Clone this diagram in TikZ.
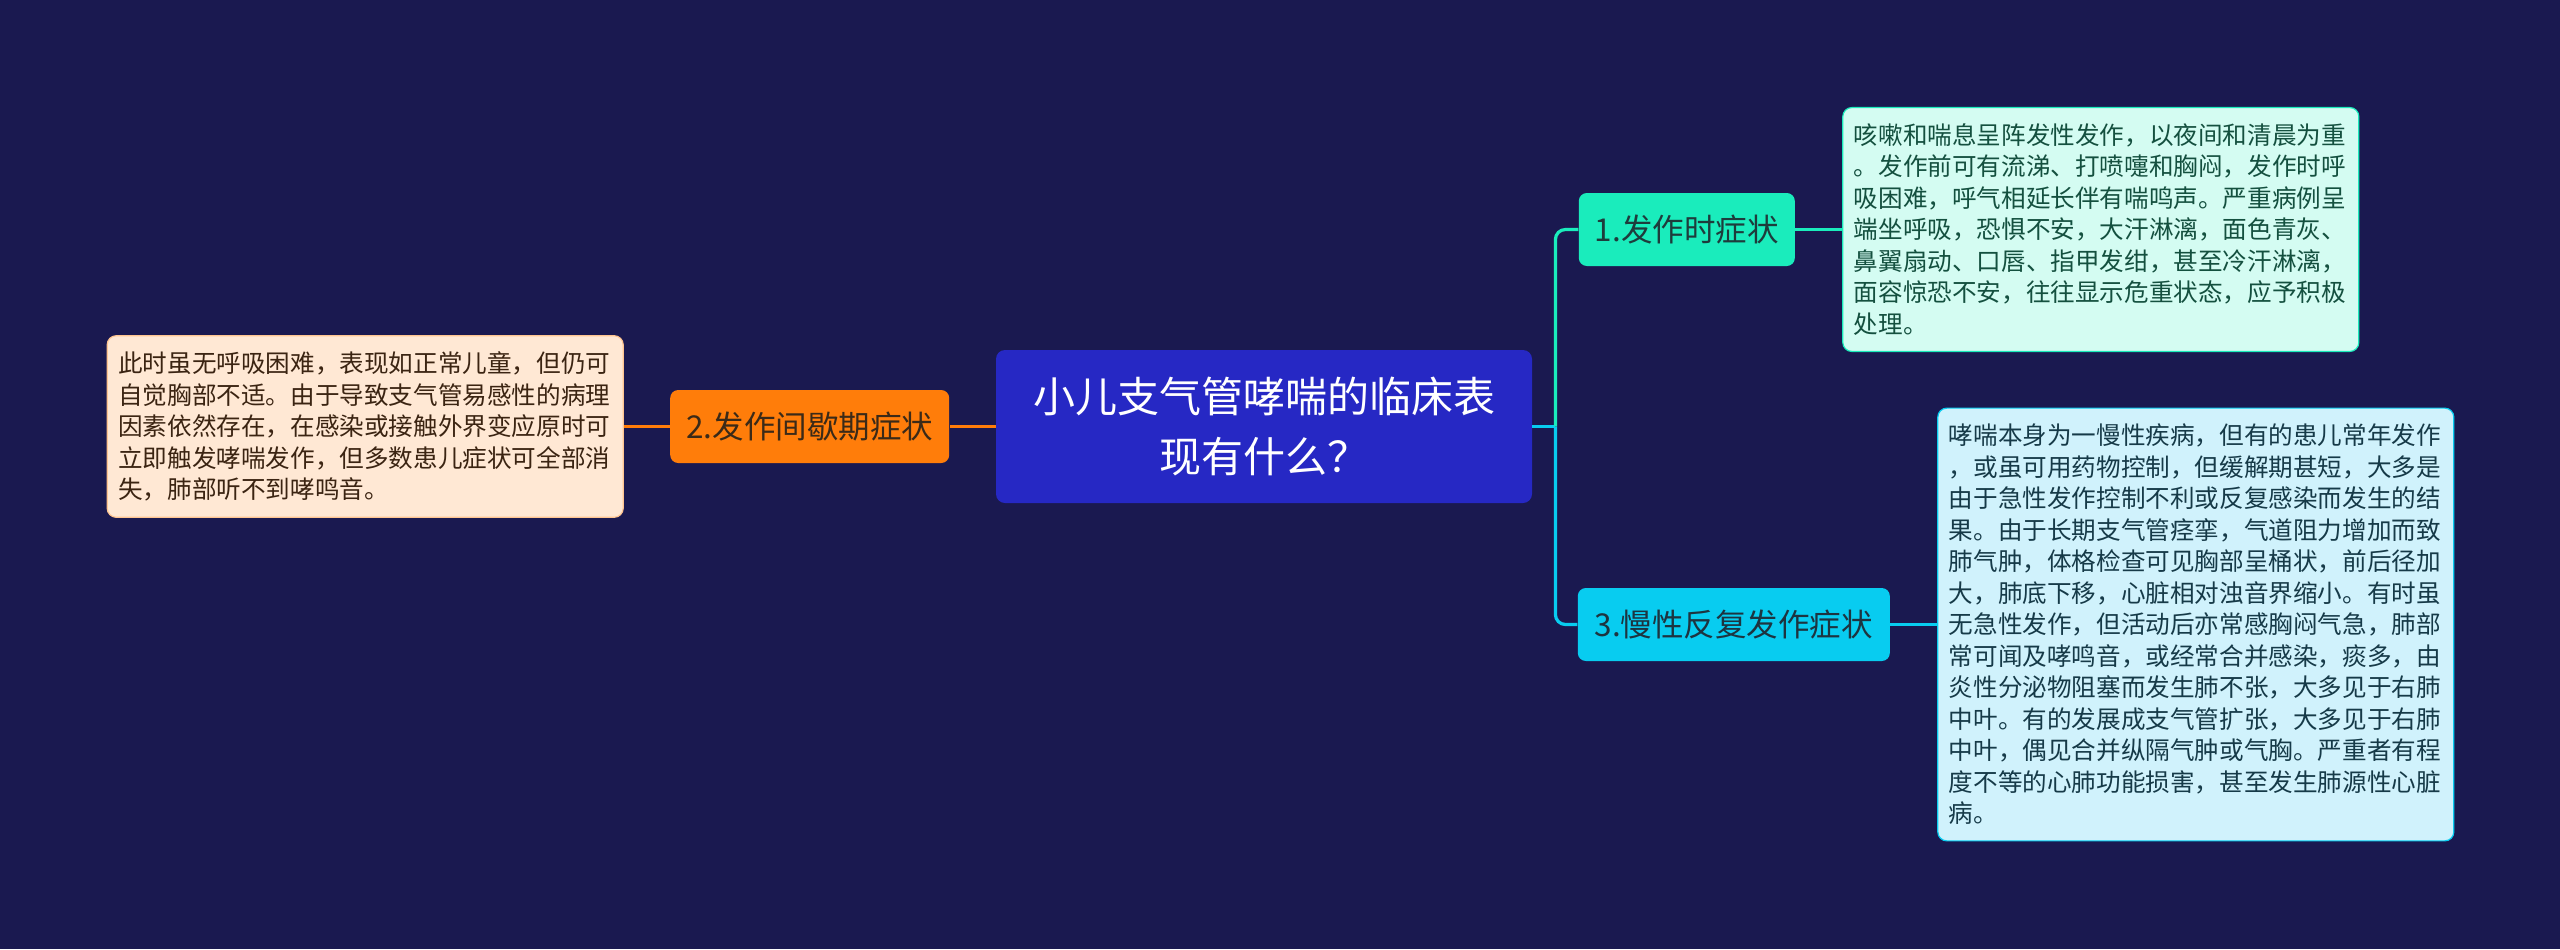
\documentclass[tikz,border=0pt]{standalone}
\usepackage{fontspec}
\setmainfont{Noto Sans CJK SC}
\usetikzlibrary{positioning}
\definecolor{bgnavy}{RGB}{26,25,80}
\definecolor{topicblue}{RGB}{38,40,196}
\definecolor{brorange}{RGB}{255,125,10}
\definecolor{brteal}{RGB}{26,236,188}
\definecolor{brcyan}{RGB}{8,204,240}
\definecolor{mintfill}{RGB}{212,252,242}
\definecolor{skyfill}{RGB}{208,242,252}
\definecolor{peachfill}{RGB}{255,232,212}

\begin{document}
\begin{tikzpicture}[x=0.5pt, y=-0.5pt,
        topic/.style={rectangle, fill=topicblue, rounded corners=4.5pt,
                      minimum width=268pt, minimum height=76.5pt, align=center,
                      text=white, font=\fontsize{21}{30.4}\selectfont},
        branch/.style={rectangle, rounded corners=4pt, minimum height=36.5pt,
                       inner xsep=6pt, font=\fontsize{15.75}{18}\selectfont},
        note/.style={rectangle, draw, line width=0.6pt, rounded corners=4.5pt,
                     text width=247pt, align=left, inner xsep=5.5pt, inner ysep=8pt,
                     font=\fontsize{12.3}{15.75}\selectfont},
        link/.style={line width=1.6pt}
    ]
        \useasboundingbox[fill=bgnavy] (0,0) rectangle (2560,949);

        % centre
        \node[topic] (root) at (1264,426.5) {小儿支气管哮喘的临床表\\现有什么？};

        % left side
        \node[branch, fill=brorange, text={rgb,255:red,59;green,42;blue,24},
              minimum width=139.5pt, left=23pt of root] (calm) {2.发作间歇期症状};
        \node[note, draw=brorange!45, fill=peachfill, text={rgb,255:red,59;green,36;blue,18},
              left=23pt of calm] (calmnote)
            {此时虽无呼吸困难，表现如正常儿童，但仍可\\
             自觉胸部不适。由于导致支气管易感性的病理\\
             因素依然存在，在感染或接触外界变应原时可\\
             立即触发哮喘发作，但多数患儿症状可全部消\\
             失，肺部听不到哮鸣音。};

        % right side
        \node[branch, fill=brteal, text={rgb,255:red,30;green,60;blue,60},
              minimum width=108pt, right=23pt of root, yshift=98.5pt] (attack) {1.发作时症状};
        \node[note, draw=brteal, fill=mintfill, text={rgb,255:red,20;green,80;blue,63},
              right=23.5pt of attack] (attacknote)
            {咳嗽和喘息呈阵发性发作，以夜间和清晨为重\\
             。发作前可有流涕、打喷嚏和胸闷，发作时呼\\
             吸困难，呼气相延长伴有喘鸣声。严重病例呈\\
             端坐呼吸，恐惧不安，大汗淋漓，面色青灰、\\
             鼻翼扇动、口唇、指甲发绀，甚至冷汗淋漓，\\
             面容惊恐不安，往往显示危重状态，应予积极\\
             处理。};

        \node[branch, fill=brcyan, text={rgb,255:red,29;green,52;blue,64},
              minimum width=156pt, right=22.5pt of root, yshift=-99pt] (chronic) {3.慢性反复发作症状};
        \node[note, draw=brcyan, fill=skyfill, text={rgb,255:red,22;green,58;blue,72},
              right=23.5pt of chronic] (chronicnote)
            {哮喘本身为一慢性疾病，但有的患儿常年发作\\
             ，或虽可用药物控制，但缓解期甚短，大多是\\
             由于急性发作控制不利或反复感染而发生的结\\
             果。由于长期支气管痉挛，气道阻力增加而致\\
             肺气肿，体格检查可见胸部呈桶状，前后径加\\
             大，肺底下移，心脏相对浊音界缩小。有时虽\\
             无急性发作，但活动后亦常感胸闷气急，肺部\\
             常可闻及哮鸣音，或经常合并感染，痰多，由\\
             炎性分泌物阻塞而发生肺不张，大多见于右肺\\
             中叶。有的发展成支气管扩张，大多见于右肺\\
             中叶，偶见合并纵隔气肿或气胸。严重者有程\\
             度不等的心肺功能损害，甚至发生肺源性心脏\\
             病。};

        % links
        \coordinate (fork) at ([xshift=11.5pt]root.east);
        \draw[link, brcyan] (root.east) -- (fork);
        \draw[link, brteal, rounded corners=5pt] (fork) |- (attack.west);
        \draw[link, brcyan, rounded corners=5pt] (fork) |- (chronic.west);
        \draw[link, brteal] (attack) -- (attacknote);
        \draw[link, brcyan] (chronic) -- (chronicnote);
        \draw[link, brorange] (root) -- (calm);
        \draw[link, brorange] (calm) -- (calmnote);
    \end{tikzpicture}
\end{document}
